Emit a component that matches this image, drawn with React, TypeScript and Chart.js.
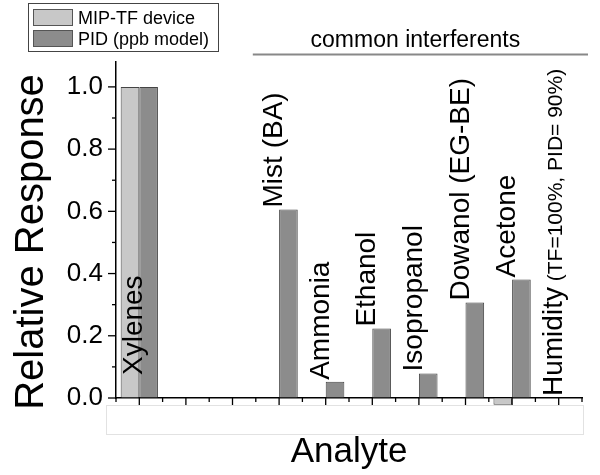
import React, { useEffect, useRef } from 'react';
import { Chart, registerables } from 'chart.js';

Chart.register(...registerables);

const categories = ['Xylenes', '', '', 'Mist (BA)', 'Ammonia', 'Ethanol', 'Isopropanol', 'Dowanol (EG-BE)', 'Acetone', 'Humidity'];
const categoryNotes = ['', '', '', '', '', '', '', '', '', '(TF=100%, PID= 90%)'];
const seriesLabels = ['MIP-TF device', 'PID (ppb model)'];
const tfValues: (number | null)[] = [1.0, null, null, null, null, null, null, null, -0.022, null];
const pidValues: (number | null)[] = [1.0, null, null, 0.606, 0.052, 0.223, 0.079, 0.307, 0.381, null];
const yTickValues = [0, 0.2, 0.4, 0.6, 0.8, 1.0];
const yMinorStep = 0.1;
const groupTitle = 'common interferents';
const groupFirstIndex = 3;
const xTitle = 'Analyte';
const yTitle = 'Relative Response';

const FONT = '"Liberation Sans", Arial, sans-serif';

const decorPlugin = {
  id: 'decor',
  afterDraw(chart: any) {
    const { ctx, chartArea } = chart;
    const xs = chart.scales.x;
    const ys = chart.scales.y;
    ctx.save();

    // faint box under the axis
    ctx.strokeStyle = '#e2e2e2';
    ctx.lineWidth = 1;
    ctx.strokeRect(106.5, 405.5, chartArea.right - 106 + 1, 29);

    // x ticks
    ctx.strokeStyle = '#000';
    ctx.lineWidth = 1.3;
    const n = categories.length;
    for (let i = 0; i < n; i++) {
      const c = xs.getPixelForValue(i);
      ctx.beginPath();
      ctx.moveTo(c, chartArea.bottom);
      ctx.lineTo(c, chartArea.bottom + 7);
      ctx.stroke();
    }
    for (let i = 0; i <= n; i++) {
      const b = xs.getPixelForValue(i - 0.5);
      ctx.beginPath();
      ctx.moveTo(b, chartArea.bottom);
      ctx.lineTo(b, chartArea.bottom + 4);
      ctx.stroke();
    }
    // y ticks
    const yMax = yTickValues[yTickValues.length - 1];
    for (let k = 0; k * yMinorStep <= yMax + 1e-9; k++) {
      const v = k * yMinorStep;
      const p = ys.getPixelForValue(v);
      const major = k % 2 === 0;
      ctx.beginPath();
      ctx.moveTo(chartArea.left - (major ? 8 : 4), p);
      ctx.lineTo(chartArea.left, p);
      ctx.stroke();
    }

    // y axis title
    ctx.save();
    ctx.fillStyle = '#000';
    ctx.font = `40px ${FONT}`;
    ctx.textAlign = 'center';
    ctx.textBaseline = 'alphabetic';
    ctx.translate(43, (chartArea.top + chartArea.bottom) / 2 + 12);
    ctx.rotate(-Math.PI / 2);
    ctx.fillText(yTitle, 0, 0);
    ctx.restore();

    // category labels (rotated)
    ctx.fillStyle = '#000';
    ctx.textAlign = 'left';
    ctx.textBaseline = 'alphabetic';
    categories.forEach((name, i) => {
      if (!name) return;
      const note = categoryNotes[i];
      ctx.font = `28px ${FONT}`;
      const wName = ctx.measureText(name).width;
      ctx.font = `21px ${FONT}`;
      const wNote = note ? ctx.measureText(' ' + note).width : 0;
      const v = Math.max(pidValues[i] ?? 0, tfValues[i] ?? 0, 0);
      let y0 = ys.getPixelForValue(v) - 2;
      if (y0 - (wName + wNote) < chartArea.top - 5) {
        y0 = ys.getPixelForValue(0) - 23;
      }
      const x = xs.getPixelForValue(i) + 3;
      ctx.save();
      ctx.translate(x, y0);
      ctx.rotate(-Math.PI / 2);
      ctx.font = `28px ${FONT}`;
      ctx.fillText(name, 0, 0);
      if (note) {
        ctx.font = `21px ${FONT}`;
        ctx.fillText(' ' + note, wName, 0);
      }
      ctx.restore();
    });

    // group title and line
    const gLeft = xs.getPixelForValue(groupFirstIndex - 0.5) - 3;
    const gRight = chartArea.right + 6;
    ctx.strokeStyle = '#888';
    ctx.lineWidth = 2;
    ctx.beginPath();
    ctx.moveTo(gLeft, 54.5);
    ctx.lineTo(gRight, 54.5);
    ctx.stroke();
    ctx.font = `23px ${FONT}`;
    ctx.textAlign = 'center';
    ctx.fillStyle = '#000';
    ctx.fillText(groupTitle, (gLeft + gRight) / 2 - 5, 47);

    // legend
    const ds = chart.data.datasets;
    ctx.strokeStyle = '#444';
    ctx.lineWidth = 1;
    ctx.fillStyle = '#fff';
    ctx.fillRect(28.5, 3.5, 190, 48);
    ctx.strokeRect(28.5, 3.5, 190, 48);
    ds.forEach((d: any, i: number) => {
      const top = 9 + i * 21;
      ctx.fillStyle = d.backgroundColor;
      ctx.fillRect(33, top, 39, 16);
      ctx.strokeStyle = '#555';
      ctx.strokeRect(33.5, top + 0.5, 39, 16);
      ctx.fillStyle = '#000';
      ctx.font = `18px ${FONT}`;
      ctx.textAlign = 'left';
      ctx.fillText(d.label, 78, top + 15);
    });

    ctx.restore();
  },
};

export default function App() {
  const ref = useRef<HTMLCanvasElement | null>(null);
  useEffect(() => {
    if (!ref.current) return;
    const chart = new Chart(ref.current, {
      type: 'bar',
      data: {
        labels: categories,
        datasets: [
          {
            label: seriesLabels[0],
            data: tfValues,
            backgroundColor: '#c8c8c8',
            borderColor: '#444',
            borderWidth: 1,
            clip: false as any,
          },
          {
            label: seriesLabels[1],
            data: pidValues,
            backgroundColor: '#8c8c8c',
            borderColor: '#444',
            borderWidth: 1,
            clip: false as any,
          },
        ],
      },
      options: {
        animation: false,
        responsive: true,
        maintainAspectRatio: false,
        datasets: { bar: { barPercentage: 1, categoryPercentage: 0.8 } },
        layout: { padding: { top: 62, right: 18, left: 0, bottom: 0 } },
        plugins: { legend: { display: false }, tooltip: { enabled: false } },
        scales: {
          x: {
            type: 'category',
            offset: true,
            grid: { display: true, drawOnChartArea: false, drawTicks: false },
            border: { display: true, color: '#000', width: 1.5 },
            ticks: { display: false },
            title: {
              display: true,
              text: xTitle,
              color: '#000',
              font: { family: FONT, size: 35 },
              padding: { top: 0, bottom: 2 },
            },
            afterFit: (s: any) => { s.height = 77; },
          },
          y: {
            min: 0,
            max: 1.08,
            grid: { display: true, drawOnChartArea: false, drawTicks: false },
            border: { display: true, color: '#000', width: 1.5 },
            afterBuildTicks: (s: any) => { s.ticks = yTickValues.map((v) => ({ value: v })); },
            ticks: {
              color: '#000',
              font: { family: FONT, size: 26 },
              padding: 13,
              callback: (v: any) => Number(v).toFixed(1),
            },
            title: { display: false, text: yTitle },
            afterFit: (s: any) => { s.width = 116; },
          },
        },
      },
      plugins: [decorPlugin],
    });
    return () => chart.destroy();
  }, []);
  return (
    <div style={{ position: 'fixed', left: 0, top: 0, width: 600, height: 475, background: '#fff' }}>
      <canvas ref={ref} />
    </div>
  );
}
